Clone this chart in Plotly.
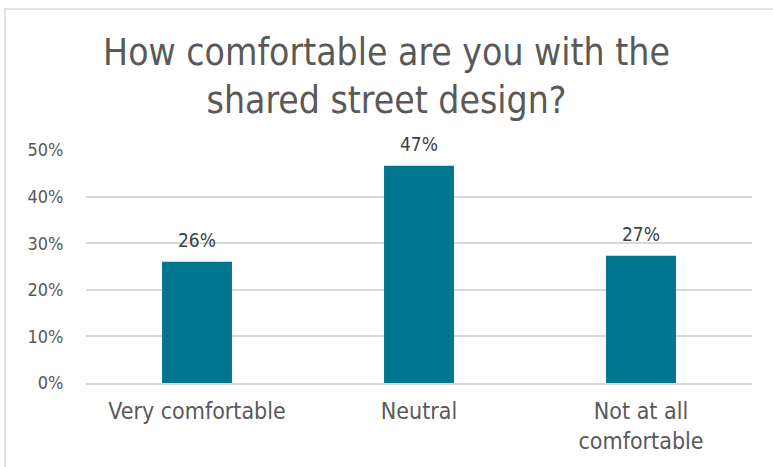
import plotly.graph_objects as go

categories = ["Very comfortable", "Neutral", "Not at all<br>comfortable"]
values = [0.26, 0.466, 0.273]
tick_vals = [0, 0.1, 0.2, 0.3, 0.4, 0.5]
tick_text = ["0%", "10%", "20%", "30%", "40%", "50%"]
title = "How comfortable are you with the<br>shared street design?"

FONT = "DejaVu Sans Condensed"
TXT = "#595959"

fig = go.Figure(go.Bar(
    x=categories, y=values,
    marker=dict(color="#00758F", line=dict(width=0)),
    cliponaxis=False,
))
for c, v in zip(categories, values):
    fig.add_annotation(x=c, y=v, text=f"{v:.0%}", showarrow=False,
                       yanchor="bottom", yshift=9,
                       font=dict(family=FONT, size=19, color="#404040"))

fig.update_layout(
    width=773, height=467,
    margin=dict(l=86, r=21, t=150, b=84),
    paper_bgcolor="white", plot_bgcolor="white",
    bargap=0.685,
    showlegend=False,
    title=dict(text=title, x=0.5, xanchor="center", y=0.86, yanchor="top",
               font=dict(family=FONT, size=37, color=TXT)),
    font=dict(family=FONT, color=TXT),
)
fig.update_xaxes(
    showgrid=False, showline=True, linecolor="#d9d9d9", linewidth=1.5,
    tickfont=dict(family=FONT, size=23, color=TXT),
    ticks="outside", ticklen=7, tickcolor="rgba(0,0,0,0)",
)
fig.update_yaxes(
    range=[0, 0.5], tickvals=tick_vals, ticktext=tick_text,
    showgrid=True, gridcolor="#d9d9d9", gridwidth=1.5,
    zeroline=False, showline=False,
    tickfont=dict(family=FONT, size=18, color=TXT),
    ticks="outside", ticklen=18, tickcolor="rgba(0,0,0,0)",
)
# chart area border
fig.add_shape(type="rect", xref="paper", yref="paper",
              x0=(5 - 86) / 666, x1=(790 - 86) / 666,
              y0=(383 - 480) / 233, y1=(383 - 9) / 233,
              line=dict(color="#d9d9d9", width=1.5), fillcolor="rgba(0,0,0,0)", layer="below")

fig.write_html("out.html")
